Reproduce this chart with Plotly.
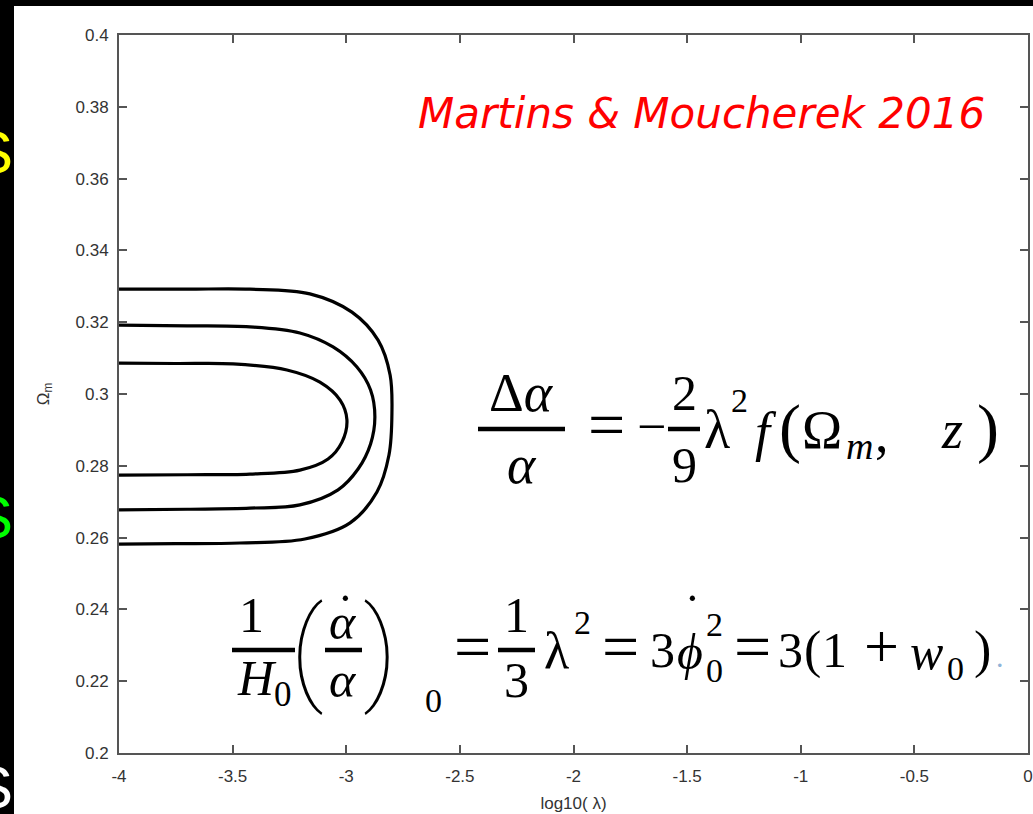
import plotly.graph_objects as go

# ---- contour levels of the (log10 lambda, Omega_m) constraint ----
outer_x = [-4.000, -3.700, -3.424, -3.160, -2.975, -2.860, -2.807, -2.799,
           -2.812, -2.865, -2.983, -3.182, -3.468, -3.750, -4.000]
outer_y = [0.3292, 0.3292, 0.3292, 0.3279, 0.3228, 0.3150, 0.3053, 0.2947,
           0.2830, 0.2727, 0.2641, 0.2596, 0.2585, 0.2583, 0.2582]

middle_x = [-4.000, -3.700, -3.424, -3.204, -3.058, -2.953, -2.893, -2.874,
            -2.893, -2.948, -3.036, -3.204, -3.424, -3.700, -4.000]
middle_y = [0.3192, 0.3190, 0.3187, 0.3170, 0.3131, 0.3075, 0.3011, 0.2936,
            0.2861, 0.2791, 0.2733, 0.2691, 0.2682, 0.2679, 0.2677]

inner_x = [-4.000, -3.750, -3.498, -3.261, -3.116, -3.027, -2.997, -3.019,
           -3.080, -3.204, -3.424, -3.700, -4.000]
inner_y = [0.3086, 0.3085, 0.3084, 0.3067, 0.3033, 0.2983, 0.2928, 0.2866,
           0.2819, 0.2788, 0.2777, 0.2775, 0.2774]

x_tickvals = [-4, -3.5, -3, -2.5, -2, -1.5, -1, -0.5, 0]
x_ticktext = ["-4", "-3.5", "-3", "-2.5", "-2", "-1.5", "-1", "-0.5", "0"]
y_tickvals = [0.2, 0.22, 0.24, 0.26, 0.28, 0.3, 0.32, 0.34, 0.36, 0.38, 0.4]
y_ticktext = ["0.2", "0.22", "0.24", "0.26", "0.28", "0.3", "0.32", "0.34",
              "0.36", "0.38", "0.4"]

W, H = 1033, 814
L, R, T, B = 119, 5, 35, 61
PW, PH = W - L - R, H - T - B


def fx(px):
    return (px - L) / PW


def fy(py):
    return (T + PH - py) / PH


fig = go.Figure()
for xs, ys in [(outer_x, outer_y), (middle_x, middle_y), (inner_x, inner_y)]:
    fig.add_trace(go.Scatter(
        x=xs, y=ys, mode="lines", showlegend=False, hoverinfo="skip",
        line=dict(color="black", width=3.2, shape="spline", smoothing=1.0),
    ))

tick_font = dict(family="Liberation Sans, Arial, sans-serif", size=17, color="#333")
label_font = dict(family="Liberation Sans, Arial, sans-serif", size=17, color="#333")
axis_common = dict(
    showline=True, linecolor="#555", linewidth=2, mirror="ticks",
    ticks="inside", ticklen=8, tickwidth=1.5, tickcolor="#555",
    showgrid=False, zeroline=False, tickfont=tick_font, automargin=False,
)

fig.update_xaxes(range=[-4, 0], tickvals=x_tickvals, ticktext=x_ticktext,
                 ticklabelstandoff=7,
                 title=dict(text="log10( λ)", standoff=12, font=label_font),
                 **axis_common)
fig.update_yaxes(range=[0.2, 0.4], tickvals=y_tickvals, ticktext=y_ticktext,
                 ticklabelstandoff=5,
                 title=dict(text="Ω<sub>m</sub>", standoff=22, font=label_font),
                 **axis_common)

# white slide panel behind the axes
shapes = [dict(type="rect", xref="paper", yref="paper", layer="below",
               x0=fx(14), x1=fx(W + 5), y0=fy(H + 5), y1=fy(6),
               fillcolor="white", line=dict(width=0))]


def bar(x0, x1, y, width=4.5):
    shapes.append(dict(type="line", xref="paper", yref="paper",
                       x0=fx(x0), x1=fx(x1), y0=fy(y), y1=fy(y),
                       line=dict(color="black", width=width)))


annotations = []
SERIF = "Liberation Serif, Times New Roman, serif"
THIN = "Roboto, sans-serif"


def tok(text, cx, cy, size=50, anchor="center", family=SERIF, color="black",
        weight=None):
    font = dict(family=family, size=size, color=color)
    if weight is not None:
        font["weight"] = weight
    annotations.append(dict(
        text=text, x=fx(cx), y=fy(cy), xref="paper", yref="paper",
        xanchor=anchor, yanchor="middle", showarrow=False, font=font,
    ))


# Δα/α = −(2/9) λ² f(Ωm, z)
tok("Δ<i>α</i>", 521, 393, size=54)
bar(478, 565, 429)
tok("<i>α</i>", 522, 465, size=54)
tok("=", 606, 424, size=66)
tok("−", 651, 426, size=52)
tok("2", 684, 393)
bar(668, 700, 429)
tok("9", 684, 465)
tok("λ", 717, 430, size=54)
tok("2", 739, 400, size=34)
tok("<i>f</i>", 766, 432, size=54)
tok("(", 790, 428, size=66)
tok("Ω", 822, 430, size=54)
tok("<i>m</i>", 859, 446, size=38)
tok(",", 882, 434, size=54)
tok("<i>z</i>", 952, 430, size=54)
tok(")", 988, 428, size=66)

# (1/H0)(α̇/α)_0 = (1/3) λ² = 3 ϕ̇0² = 3(1 + w0).
tok("1", 251, 615)
bar(232, 295, 650)
tok("<i>H</i><sub>0</sub>", 264, 682)
tok("(", 307, 650, size=114, family=THIN, weight=100)
tok("<i>α</i>", 343, 622)
tok("˙", 345, 612, size=50)
bar(325, 362, 650)
tok("<i>α</i>", 343, 680)
tok(")", 380, 650, size=114, family=THIN, weight=100)
tok("0", 433, 700, size=34)
tok("=", 472, 646, size=66)
tok("1", 516, 615)
bar(498, 535, 650)
tok("3", 516, 680)
tok("λ", 556, 650, size=52)
tok("2", 582, 622, size=34)
tok("=", 620, 646, size=66)
tok("3", 662, 650)
tok("<i>ϕ</i>", 690, 652)
tok("˙", 692, 612, size=50)
tok("2", 714, 624, size=34)
tok("0", 714, 670, size=34)
tok("=", 752, 646, size=66)
tok("3", 790, 650)
tok("(", 812, 650, size=52)
tok("1", 834, 650)
tok("+", 881, 646, size=62)
tok("<i>w</i>", 926, 652)
tok("0", 955, 668, size=34)
tok(")", 982, 650, size=52)
tok(".", 1000, 656, size=30, color="#8fb4d8")

# attribution
tok("<i>Martins &amp; Moucherek 2016</i>", 701, 113, size=42,
    family="DejaVu Sans", color="#ff0000")

# slide lettering cut by the left edge
for letter_y, col in [(152, "#ffff00"), (517, "#00ff00"), (787, "#ffffff")]:
    tok("S", 15, letter_y, size=60, anchor="right",
        family="Liberation Sans, Arial", color=col)

fig.update_layout(
    width=W, height=H,
    margin=dict(l=L, r=R, t=T, b=B),
    paper_bgcolor="black", plot_bgcolor="white",
    shapes=shapes, annotations=annotations,
)

fig.write_html("out.html")
